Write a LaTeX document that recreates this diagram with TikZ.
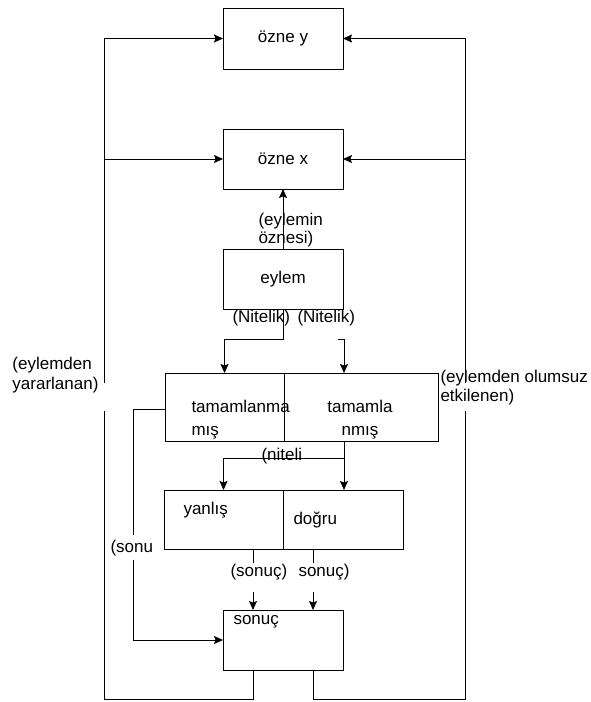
\documentclass[tikz,border=0pt]{standalone}
\usepackage{fontspec}
\setmainfont{Liberation Sans}
\usetikzlibrary{arrows.meta, positioning}
\tikzset{
  every picture/.style={font=\fontsize{17}{20}\selectfont, line width=1pt},
  box/.style={draw, rectangle, inner sep=0pt, outer sep=0pt, minimum width=#1, minimum height=60pt},
  box/.default=120pt,
  arrow/.style={-{Stealth[length=9pt, width=8pt, inset=1.5pt]}},
  lbl/.style={inner sep=0pt, anchor=west, align=left},
  gap/.style={fill=white},
}

\begin{document}
\begin{tikzpicture}[x=1pt, y=-1pt]
  \useasboundingbox (0,0) rectangle (590,702);
  % boxes
  \node[box, minimum height=61pt] (ozney) at (283,38.5) {özne y};
  \node[box] (oznex) at (283,159) {özne x};
  \node[box] (eylem) at (283,279) {eylem};
  \node[box=119pt, minimum height=68pt] (taml) at (224.5,407) {};
  \node[box=154pt, minimum height=68pt, right=0pt of taml] (tamr) {};
  \node[box=119pt, minimum height=59pt] (yanlis) at (223.5,519.5) {};
  \node[box, minimum height=59pt, right=0pt of yanlis] (dogru) {};
  \node[box] (sonuc) at (283,640) {};
  % corner points
  \coordinate (lbot) at (104,699);
  \coordinate (rbot) at (465,699);
  \coordinate (njoin) at (283,339);
  \coordinate (nright) at (338,339);
  \coordinate (nsplit) at (344,458);
  \coordinate (fbk) at (133,409);
  \coordinate (s1) at (253,563);
  \coordinate (s2) at (313,563);
  \coordinate (a1) at (253,592);
  \coordinate (a2) at (313,592);
  % connectors
  \draw[arrow] ([xshift=-30pt]sonuc.south) |- (lbot) |- (ozney.west);
  \draw[arrow] (lbot) |- (oznex.west);
  \draw[arrow] ([xshift=30pt]sonuc.south) |- (rbot) |- (ozney.east);
  \draw[arrow] (rbot) |- (oznex.east);
  \draw[arrow] (eylem) -- (oznex);
  \draw[arrow] (eylem.south) -- (njoin) -| (taml.north);
  \draw[arrow] (nright) -| ([xshift=-17pt]tamr.north);
  \draw[arrow] ([xshift=-17pt]tamr.south) -- ([xshift=-17pt]tamr.south |- dogru.north);
  \draw[arrow] (nsplit) -| (yanlis.north);
  \draw[arrow] ([yshift=-2pt]taml.west) -- (fbk) |- (sonuc.west);
  \draw (s1 |- yanlis.south) -- (s1);
  \draw (s2 |- dogru.south) -- (s2);
  \draw[arrow] (a1) -- (a1 |- sonuc.north);
  \draw[arrow] (a2) -- (a2 |- sonuc.north);
  % gaps left by the text boxes
  \fill[gap] (100,383) rectangle (108,411);
  \fill[gap] (461,383) rectangle (469,411);
  \fill[gap] (129,535) rectangle (137,560);
  % labels
  \node[lbl, font=\fontsize{17}{18}\selectfont] (eoz) at (258,230.5) {(eylemin\\öznesi)};
  \node[lbl] (nit1) at (232,318) {(Nitelik)};
  \node[lbl] (nit2) at (297,318) {(Nitelik)};
  \node[lbl, font=\fontsize{17}{23}\selectfont] (tamltx) at (191,419.5) {tamamlanma\\mış};
  \node[inner sep=0pt, align=center, font=\fontsize{17}{23}\selectfont] (tamrtx) at (360,419.5) {tamamla\\nmış};
  \node[lbl] (yarar) at (12,375) {(eylemden\\yararlanan)};
  \node[lbl, font=\fontsize{17}{19}\selectfont] (olumsuz) at (440,387.5) {(eylemden olumsuz\\etkilenen)};
  \node[lbl] (nitel) at (261,456) {(niteli};
  \node[lbl] (yantx) at (183,510) {yanlış};
  \node[lbl] (dogtx) at (293,520) {doğru};
  \node[lbl] (sonu) at (110,548) {(sonu};
  \node[lbl] (son1) at (230,572) {(sonuç)};
  \node[lbl] (son2) at (298,572) {sonuç)};
  \node[lbl] (sontx) at (233,622) {sonuç};
\end{tikzpicture}
\end{document}
